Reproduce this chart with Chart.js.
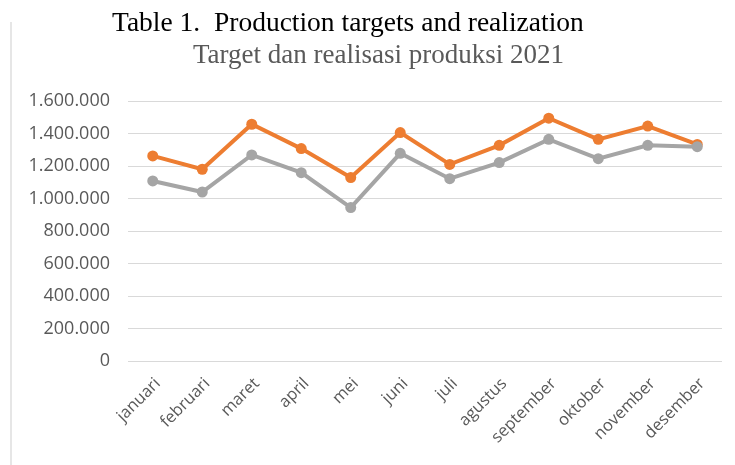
<!DOCTYPE html>
<html>
<head>
<meta charset="utf-8">
<script src="https://cdn.jsdelivr.net/npm/chart.js@4.4.1/dist/chart.umd.min.js"></script>
<style>
  html, body { margin: 0; padding: 0; background: #fff; }
  #wrap { position: relative; width: 735px; height: 465px; overflow: hidden; }
  #frame { position: absolute; left: 10px; top: 22px; bottom: 0; border-left: 2px solid #e6e6e6; }
  .cap { position: absolute; font-family: "Liberation Serif", "Times New Roman", serif; white-space: pre; line-height: 1; }
  #cap1 { left: 112px; top: 8px; font-size: 27.5px; color: #000; }
  #cap2 { left: 193px; top: 41px; font-size: 27px; color: #595959; }
  #box { position: absolute; left: 0; top: 0; width: 735px; height: 465px; }
</style>
</head>
<body>
<div id="wrap">
  <div id="frame"></div>
  <div id="box"><canvas id="chart"></canvas></div>
  <div class="cap" id="cap1">Table 1.  Production targets and realization</div>
  <div class="cap" id="cap2">Target dan realisasi produksi 2021</div>
</div>
<script>
// months
const bulan = ["januari", "februari", "maret", "april", "mei", "juni",
  "juli", "agustus", "september", "oktober", "november", "desember"];

// production target
const target = [1262000, 1180000, 1457000, 1307000, 1129000, 1406000,
  1210000, 1327000, 1494000, 1364000, 1446000, 1333000];

// production realization
const realisasi = [1108000, 1040000, 1268000, 1159000, 944000, 1278000,
  1122000, 1221000, 1364000, 1245000, 1327000, 1319000];

// y axis ticks
const yMin = 0, yMax = 1600000, yStep = 200000;

function formatRibuan(v) {
  return String(v).replace(/\B(?=(\d{3})+(?!\d))/g, ".");
}

const ctx = document.getElementById("chart").getContext("2d");

new Chart(ctx, {
  type: "line",
  data: {
    labels: bulan,
    datasets: [
      {
        label: "Realisasi",
        data: realisasi,
        borderColor: "#a5a5a5",
        backgroundColor: "#a5a5a5",
        borderWidth: 4,
        pointRadius: 5.5,
        pointHoverRadius: 5.5,
        pointBorderWidth: 0,
        tension: 0,
      },
      {
        label: "Target",
        data: target,
        borderColor: "#ed7d31",
        backgroundColor: "#ed7d31",
        borderWidth: 4,
        pointRadius: 5.5,
        pointHoverRadius: 5.5,
        pointBorderWidth: 0,
        tension: 0,
      },
    ],
  },
  options: {
    responsive: true,
    maintainAspectRatio: false,
    animation: false,
    layout: { padding: { top: 101, right: 13, left: 0, bottom: 0 } },
    plugins: {
      legend: { display: false },
      tooltip: { enabled: false },
    },
    scales: {
      x: {
        offset: true,
        grid: { display: false },
        border: { display: false },
        ticks: {
          color: "#595959",
          font: { family: "'Open Sans', sans-serif", size: 16.5 },
          minRotation: 45,
          maxRotation: 45,
          padding: 5,
          labelOffset: 5,
        },
        afterFit: (scale) => { scale.height = 104; },
      },
      y: {
        min: yMin,
        max: yMax,
        grid: { color: "#d9d9d9", lineWidth: 1, drawTicks: false },
        border: { display: false },
        ticks: {
          stepSize: yStep,
          color: "#595959",
          font: { family: "'Open Sans', sans-serif", size: 18 },
          padding: 18,
          callback: (v) => formatRibuan(v),
        },
        afterFit: (scale) => { scale.width = 128; },
      },
    },
  },
});
</script>
</body>
</html>
